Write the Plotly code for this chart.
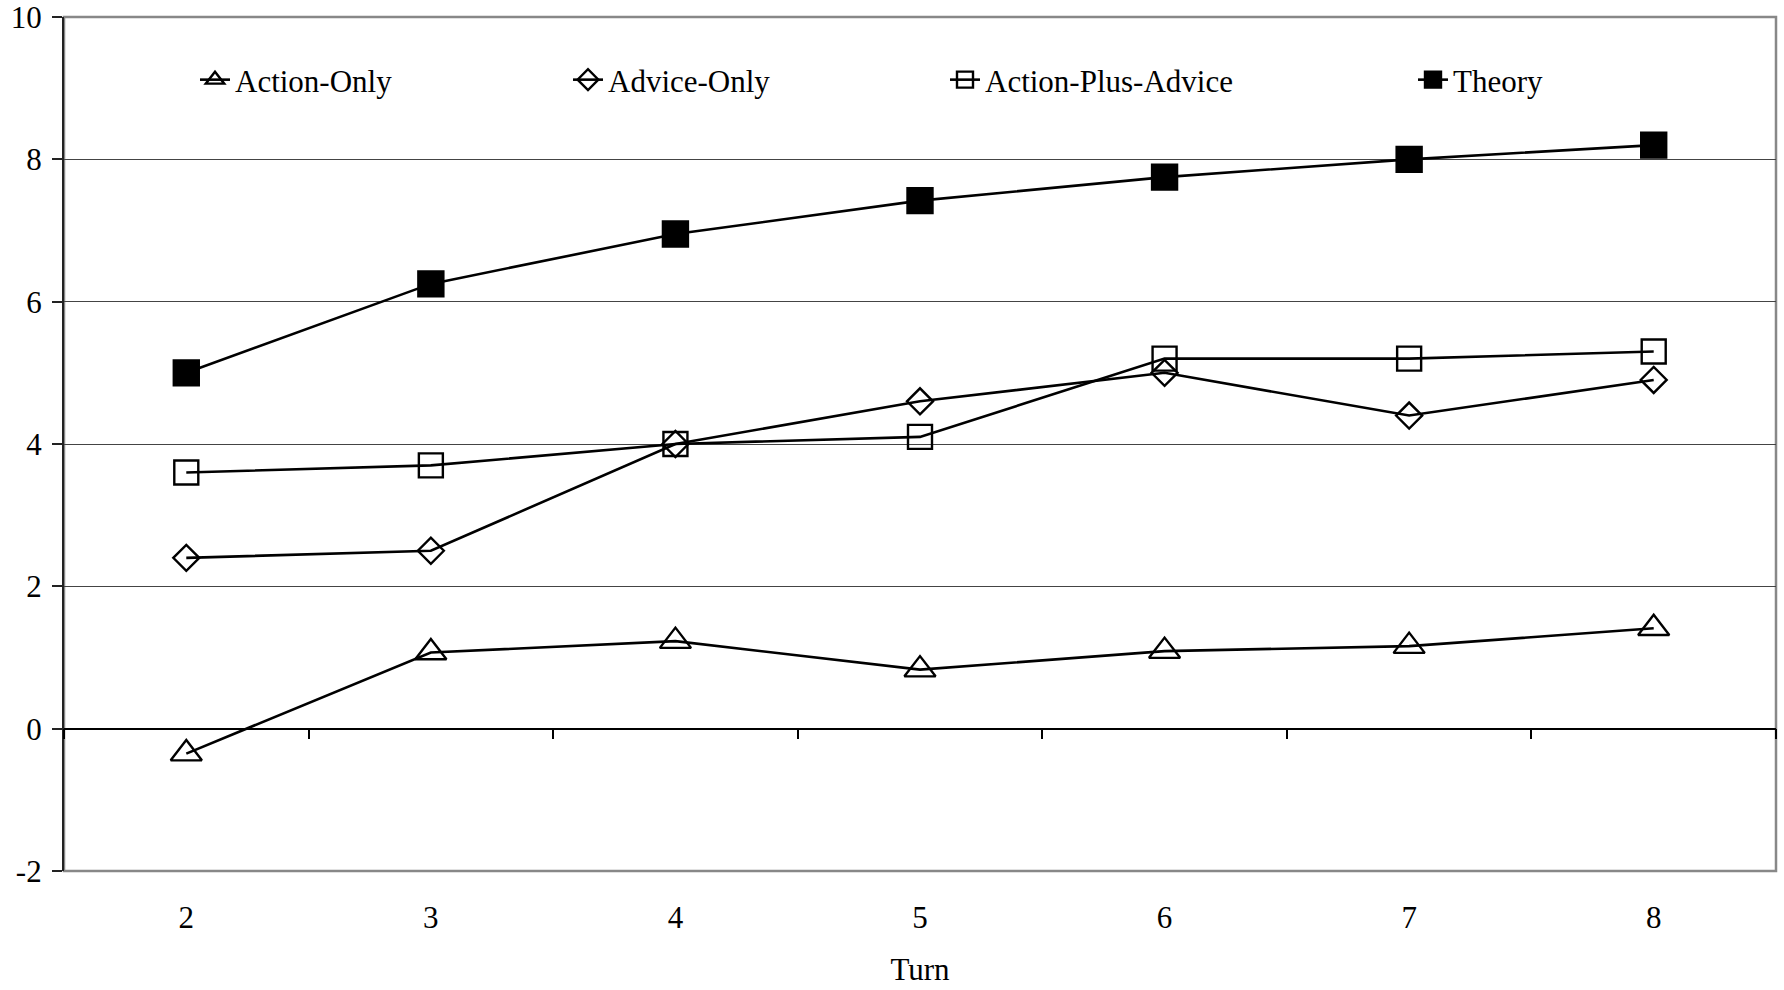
import plotly.graph_objects as go

# Turn numbers on the horizontal axis
turns = [2, 3, 4, 5, 6, 7, 8]

# Series values per turn
action_only = [-0.35, 1.07, 1.23, 0.83, 1.09, 1.16, 1.41]
advice_only = [2.4, 2.5, 4.0, 4.6, 5.0, 4.4, 4.9]
action_plus_advice = [3.6, 3.7, 4.0, 4.1, 5.2, 5.2, 5.3]
theory = [5.0, 6.25, 6.95, 7.42, 7.75, 8.0, 8.2]

series_names = ["Action-Only", "Advice-Only", "Action-Plus-Advice", "Theory"]
y_ticks = [-2, 0, 2, 4, 6, 8, 10]
y_tick_text = ["-2", "0", "2", "4", "6", "8", "10"]

FONT = "Liberation Serif, Times New Roman, serif"
FS = 31
W, H = 1784, 990
Y_MIN, Y_MAX = -2, 10

styles = [
    dict(symbol="triangle-up-open", size=27),
    dict(symbol="diamond-open", size=20),
    dict(symbol="square-open", size=24),
    dict(symbol="square", size=25),
]
values = [action_only, advice_only, action_plus_advice, theory]
# left edge of each legend label, in pixels
legend_text_x = [235, 608, 985, 1453]
legend_ids = ["legend", "legend2", "legend3", "legend4"]

fig = go.Figure()
for name, vals, st, lid in zip(series_names, values, styles, legend_ids):
    fig.add_trace(go.Scatter(
        x=turns, y=vals, name=name, mode="lines+markers",
        line=dict(color="black", width=2.6),
        marker=dict(symbol=st["symbol"], size=st["size"], color="black",
                    line=dict(color="black", width=2.4)),
        legend=lid,
    ))

legend_common = dict(
    orientation="h", xref="container", yref="container",
    yanchor="middle", xanchor="left", y=1 - 80 / H,
    font=dict(family=FONT, size=FS, color="black"),
    bgcolor="rgba(0,0,0,0)", borderwidth=0,
)
legends = {}
for lid, tx in zip(legend_ids, legend_text_x):
    legends[lid] = dict(legend_common, x=(tx - 40) / W)

zero_pos = (0 - Y_MIN) / (Y_MAX - Y_MIN)

fig.update_layout(
    width=W, height=H,
    margin=dict(l=64, r=8, t=17, b=119, autoexpand=False),
    paper_bgcolor="white", plot_bgcolor="white",
    font=dict(family=FONT, size=FS, color="black"),
    showlegend=True,
    **legends,
    xaxis=dict(
        range=[1.5, 8.5], tickvals=turns, ticktext=[str(t) for t in turns],
        ticks="", showline=False, showgrid=False, zeroline=False,
        ticklabelstandoff=25,
        title=dict(text="Turn", font=dict(family=FONT, size=FS), standoff=24),
    ),
    xaxis2=dict(
        overlaying="x", anchor="free", position=zero_pos,
        range=[1.5, 8.5], tick0=1.5, dtick=1,
        ticks="outside", ticklen=10, tickwidth=1.5, tickcolor="black",
        showline=True, linecolor="black", linewidth=1.5,
        showticklabels=False, showgrid=False, zeroline=False,
    ),
    yaxis=dict(
        range=[Y_MIN, Y_MAX], tickvals=y_ticks, ticktext=y_tick_text,
        ticks="outside", ticklen=10, tickwidth=1.5, tickcolor="#222",
        showline=True, linecolor="#222", linewidth=2.2,
        showgrid=True, gridcolor="#444", gridwidth=1, zeroline=False,
        ticklabelstandoff=4, ticklabeloverflow="allow",
    ),
    shapes=[dict(type="rect", xref="paper", yref="paper", x0=0, x1=1, y0=0, y1=1,
                 line=dict(color="#888", width=2.5), layer="below")],
)

# keep the zero-line axis present with an invisible helper trace
fig.add_trace(go.Scatter(x=[turns[0]], y=[0], xaxis="x2", mode="markers",
                         marker=dict(opacity=0), showlegend=False, hoverinfo="skip"))

fig.write_html("out.html")
